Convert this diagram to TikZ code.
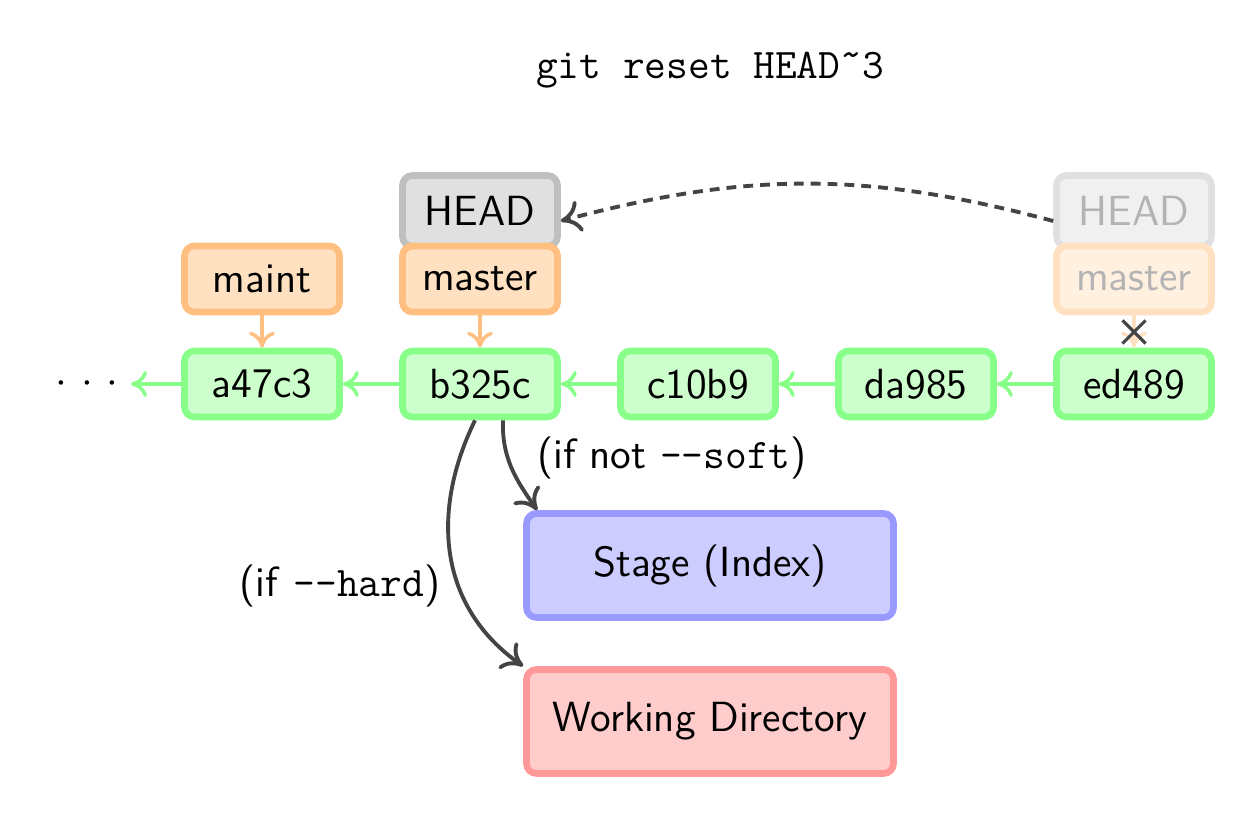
\documentclass[tikz,border=0pt]{standalone}
\usetikzlibrary{positioning}
\usetikzlibrary{arrows.meta}
\usetikzlibrary{shapes.misc}

\definecolor{commitdraw}{RGB}{136,255,136}
\definecolor{commitfill}{RGB}{204,255,204}
\definecolor{branchdraw}{RGB}{255,191,128}
\definecolor{branchfill}{RGB}{255,224,192}
\definecolor{headdraw}{RGB}{191,191,191}
\definecolor{headfill}{RGB}{224,224,224}
\definecolor{oldheaddraw}{RGB}{224,224,224}
\definecolor{oldheadfill}{RGB}{240,240,240}
\definecolor{oldbranchdraw}{RGB}{255,224,192}
\definecolor{oldbranchfill}{RGB}{255,240,224}
\definecolor{oldtext}{RGB}{179,179,179}
\definecolor{stagedraw}{RGB}{153,153,255}
\definecolor{stagefill}{RGB}{204,204,255}
\definecolor{workdraw}{RGB}{255,153,153}
\definecolor{workfill}{RGB}{255,204,204}
\definecolor{arrowgray}{RGB}{68,68,68}

\tikzset{
  box/.style={rounded corners=0.1cm, line width=1.9pt, inner sep=0pt,
    minimum width=1.55cm, minimum height=0.66cm,
    font=\sffamily\fontsize{12}{14}\selectfont},
  commit/.style={box, draw=commitdraw, fill=commitfill},
  branch/.style={box, draw=branchdraw, fill=branchfill},
  headref/.style={box, draw=headdraw, fill=headfill, minimum height=0.71cm},
  oldbranch/.style={box, draw=oldbranchdraw, fill=oldbranchfill, text=oldtext},
  oldheadref/.style={box, draw=oldheaddraw, fill=oldheadfill, text=oldtext, minimum height=0.71cm},
  area/.style={box, minimum width=3.67cm, minimum height=1.04cm},
  parent/.style={draw=commitdraw, line width=1pt, -{To[length=1.6mm,width=2.6mm]}},
  pointer/.style={draw=branchdraw, line width=1pt, -{To[length=1.6mm,width=2.6mm]}},
  move/.style={draw=arrowgray, line width=1.1pt, -{To[length=2mm,width=3.2mm]}},
  note/.style={font=\sffamily\fontsize{12}{14}\selectfont},
}

\begin{document}
\begin{tikzpicture}
  \useasboundingbox (0,0) rectangle (12.5,8.38);

  \node[note, font=\ttfamily\fontsize{12}{14}\selectfont] (title) at (7.10,7.68) {git reset HEAD\symbol{"02DC}3};

  % commits
  \node[note] (dots) at (0.87,4.54) {$\cdotp\mkern3mu\cdotp\mkern3mu\cdotp$};
  \node[commit] (a47c3) at (2.62,4.54) {a47c3};
  \node[commit] (b325c) at (4.80,4.54) {b325c};
  \node[commit] (c10b9) at (6.98,4.54) {c10b9};
  \node[commit] (da985) at (9.16,4.54) {da985};
  \node[commit] (ed489) at (11.34,4.54) {ed489};
  \draw[parent] (a47c3) -- (dots);
  \draw[parent] (b325c) -- (a47c3);
  \draw[parent] (c10b9) -- (b325c);
  \draw[parent] (da985) -- (c10b9);
  \draw[parent] (ed489) -- (da985);

  % refs
  \node[branch] (maint) at (2.62,5.59) {maint};
  \node[headref] (head) at (4.80,6.27) {HEAD};
  \node[branch] (master) at (4.80,5.59) {master};
  \node[oldheadref] (oldhead) at (11.34,6.27) {HEAD};
  \node[oldbranch] (oldmaster) at (11.34,5.59) {master};
  \draw[pointer] (maint) -- (a47c3);
  \draw[pointer] (master) -- (b325c);
  \draw[pointer, draw=oldbranchdraw] (oldmaster) -- (ed489);
  \node[cross out, draw=arrowgray, line width=0.9pt, minimum size=0.2cm, inner sep=0pt] (cut) at (11.34,5.06) {};
  \draw[move, dash pattern=on 2.8pt off 2pt] ([yshift=-0.1cm]oldhead.west) to[bend right=15] ([yshift=-0.1cm]head.east);

  % stage and working directory
  \node[area, draw=stagedraw, fill=stagefill] (stage) at (7.10,2.725) {Stage (Index)};
  \node[area, draw=workdraw, fill=workfill] (work) at (7.10,1.165) {Working Directory};
  \draw[move] ([xshift=0.23cm]b325c.south) to[out=-92, in=125] ([xshift=0.14cm]stage.north west);
  \draw[move] ([xshift=-0.05cm]b325c.south) to[out=-116, in=145, looseness=1.05] (work.north west);
  \node[note] (soft) at (6.72,3.80) {(if not \texttt{-{}-soft})};
  \node[note] (hard) at (3.40,2.52) {(if \texttt{-{}-hard})};
\end{tikzpicture}
\end{document}
